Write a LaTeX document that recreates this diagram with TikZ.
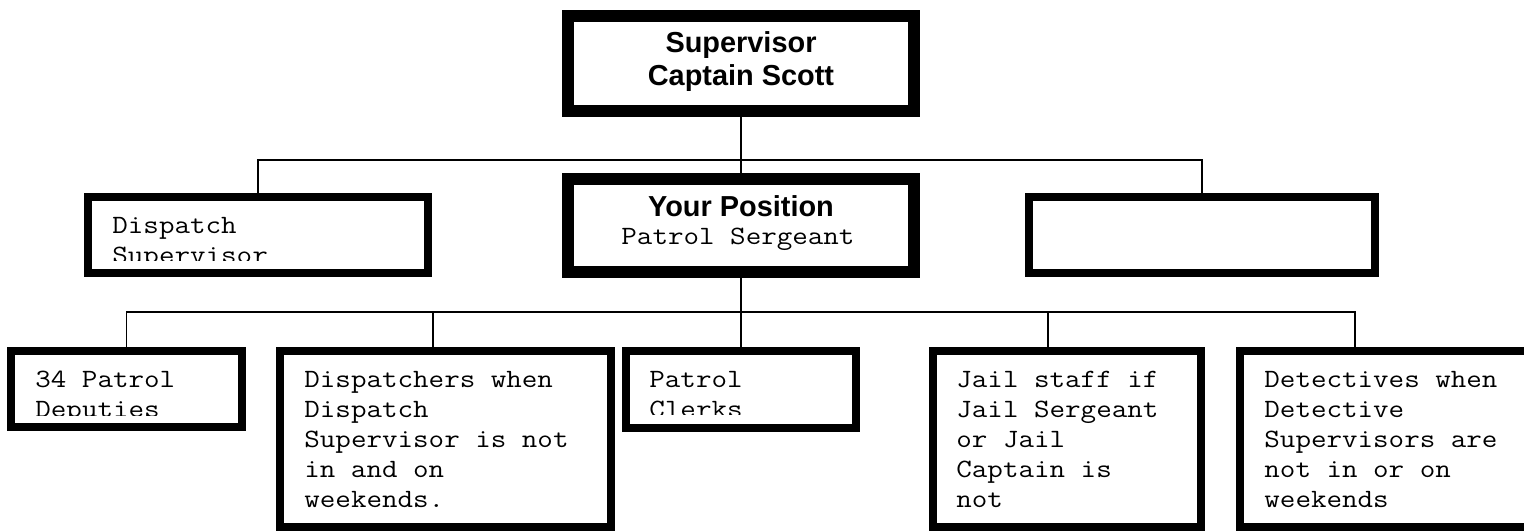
\documentclass[tikz,border=0pt]{standalone}
\usepackage{fontspec}
\newfontfamily\monof{Latin Modern Mono}[FakeStretch=1.143]
\newfontfamily\sansf{Liberation Sans}
\begin{document}
\begin{tikzpicture}[x=0.5pt,y=-0.5pt,
  thickbox/.style={draw, line width=6pt, fill=white, inner sep=0pt, rectangle},
  medbox/.style={draw, line width=4pt, fill=white, inner sep=0pt, rectangle},
  conn/.style={line width=0.6pt},
  monotext/.style={inner sep=0pt, anchor=base west, align=left,
    font=\monof\fontsize{13.2pt}{15pt}\selectfont},
  boldtext/.style={inner sep=0pt, anchor=base, align=center,
    font=\sansf\bfseries\fontsize{14.45pt}{16.5pt}\selectfont},
  monocenter/.style={inner sep=0pt, anchor=base,
    font=\monof\fontsize{13.2pt}{15pt}\selectfont}]
\useasboundingbox[fill=white] (0,0) rectangle (1524,531);
\clip (0,0) rectangle (1524,531);

% coordinates for connector positions
\coordinate (h2) at (741,160);
\coordinate (h3) at (741,312);
\coordinate (kB) at (433,312);
\coordinate (kD) at (1048,312);
\coordinate (kE) at (1355,312);

% boxes
\node[thickbox, minimum width=173pt, minimum height=47.5pt] (top) at (741,63.5) {};
\node[thickbox, minimum width=173pt, minimum height=46.5pt] (mid) at (741,225.5) {};
\node[medbox, minimum width=170pt, minimum height=38pt] (disp) at (258,235) {};
\node[medbox, minimum width=173pt, minimum height=38pt] (right) at (1202,235) {};
\node[medbox, minimum width=115.5pt, minimum height=38pt] (A) at (126.5,389) {};
\node[medbox, minimum width=165.5pt, minimum height=88pt] (B) at (445.5,439) {};
\node[medbox, minimum width=115pt, minimum height=38.5pt] (C) at (741,389.5) {};
\node[medbox, minimum width=134pt, minimum height=88pt] (D) at (1067,439) {};
\node[medbox, minimum width=168pt, minimum height=88pt] (E) at (1408,439) {};

% connectors
\draw[conn] (top.south) -- (mid.north);
\draw[conn] (disp.north) |- (h2) -| (right.north);
\draw[conn] (mid.south) -- (C.north);
\draw[conn] (A.north) |- (h3) -- (kE) -- (kE |- E.north);
\draw[conn] (kB) -- (kB |- B.north);
\draw[conn] (kD) -- (kD |- D.north);

% texts (base anchor = baseline of the last line)
\node[boldtext] (tTop) at (741,85) {Supervisor\\Captain Scott};
\node[boldtext] (tMid1) at (741,216) {Your Position};
\node[monocenter] (tMid2) at (738,244) {Patrol Sergeant};
\begin{scope}
  \clip (92,201) rectangle (428,260);
  \node[monotext] (tDisp) at (112,263) {Dispatch\\Supervisor};
\end{scope}
\begin{scope}
  \clip (16,340) rectangle (240,415);
  \node[monotext] (tA) at (35,417) {34 Patrol\\Deputies};
\end{scope}
\begin{scope}
  \clip (629,340) rectangle (852,414);
  \node[monotext] (tC) at (649,417) {Patrol\\Clerks};
\end{scope}
\node[monotext] (tB) at (304,507) {Dispatchers when\\Dispatch\\Supervisor is not\\in and on\\weekends.};
\node[monotext] (tD) at (956,507) {Jail staff if\\Jail Sergeant\\or Jail\\Captain is\\not};
\node[monotext] (tE) at (1264,507) {Detectives when\\Detective\\Supervisors are\\not in or on\\weekends};
\end{tikzpicture}
\end{document}
